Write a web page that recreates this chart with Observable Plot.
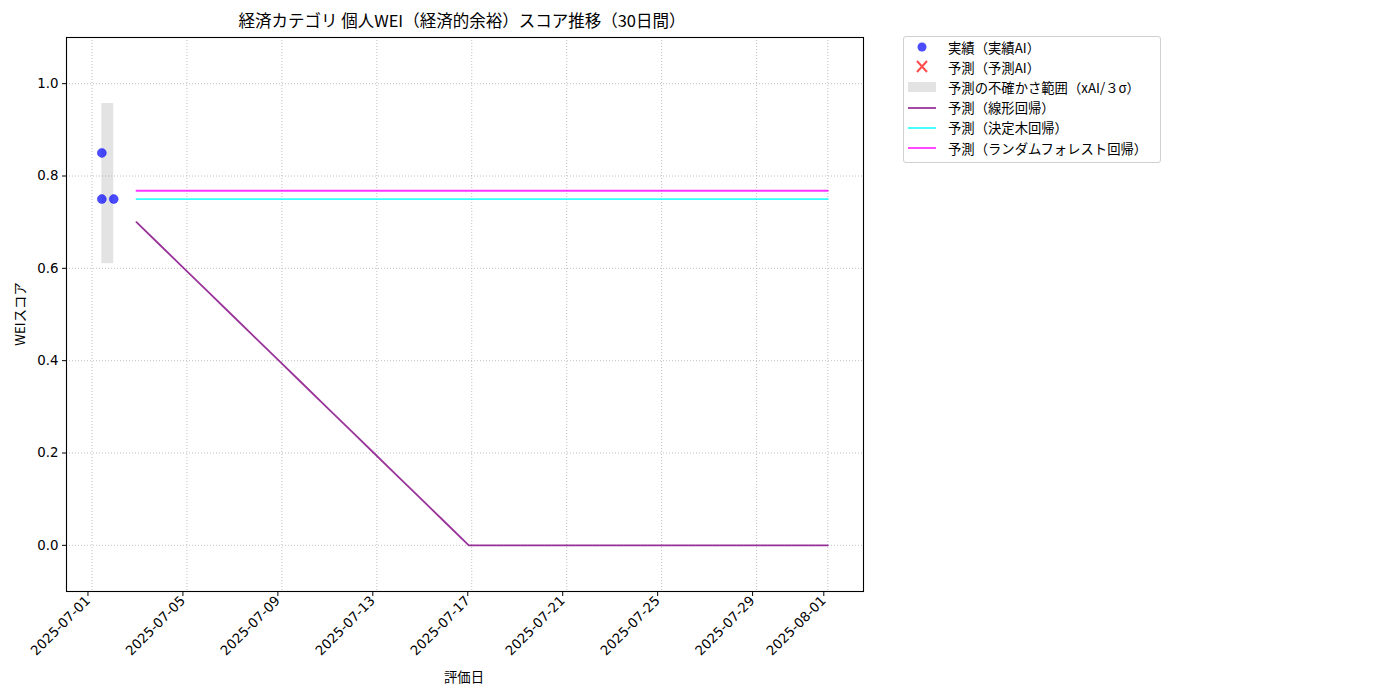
<!DOCTYPE html>
<html>
<head>
<meta charset="utf-8">
<script src="https://cdn.jsdelivr.net/npm/d3@7"></script>
<script src="https://cdn.jsdelivr.net/npm/@observablehq/plot@0.6"></script>
<style>
  body { margin: 0; background: #fff; }
  #wrap { position: relative; width: 1400px; height: 700px; font-family: "Noto Sans CJK JP", "Noto Sans", sans-serif; color: #000; }
  #chart { position: absolute; left: 0; top: 0; }
  #chart svg g[aria-label="x-axis tick label"] text,
  #chart svg g[aria-label="y-axis tick label"] text { font-family: "DejaVu Sans", sans-serif; }
  .lbl { position: absolute; white-space: nowrap; }
  #title { left: 462px; top: 20px; transform: translate(-50%, -50%); font-size: 16.5px; }
  #xlabel { left: 464px; top: 676px; transform: translate(-50%, -50%); font-size: 13.33px; }
  #ylabel { left: 19px; top: 314px; transform: translate(-50%, -50%) rotate(-90deg); font-size: 13.33px; }
  #legend { position: absolute; left: 903px; top: 36px; width: 258px; height: 127px; border: 1px solid #d0d0d0; border-radius: 3px; box-sizing: border-box; font-size: 13.33px; }
  .row { position: absolute; left: 0; height: 20px; display: flex; align-items: center; }
  .row svg { margin-left: 4px; margin-right: 10px; }
  .fw { font-variant-east-asian: full-width; }
</style>
</head>
<body>
<div id="wrap">
  <div id="chart"></div>
  <div id="title" class="lbl">経済カテゴリ 個人WEI（経済的余裕）スコア推移（30日間）</div>
  <div id="xlabel" class="lbl">評価日</div>
  <div id="ylabel" class="lbl">WEIスコア</div>
  <div id="legend"></div>
</div>
<script>
// ---- data ----
const actualDates = ["2025-07-01T10:00Z", "2025-07-01T10:00Z", "2025-07-01T22:00Z"];
const actualValues = [0.85, 0.75, 0.75];

const bandDates = ["2025-07-01T10:00Z", "2025-07-01T22:00Z"];
const bandLow = 0.610;
const bandHigh = 0.957;

const predDates = [
  "2025-07-02T21:00Z", "2025-07-03T21:00Z", "2025-07-04T21:00Z", "2025-07-05T21:00Z", "2025-07-06T21:00Z",
  "2025-07-07T21:00Z", "2025-07-08T21:00Z", "2025-07-09T21:00Z", "2025-07-10T21:00Z", "2025-07-11T21:00Z",
  "2025-07-12T21:00Z", "2025-07-13T21:00Z", "2025-07-14T21:00Z", "2025-07-15T21:00Z", "2025-07-16T21:00Z",
  "2025-07-17T21:00Z", "2025-07-18T21:00Z", "2025-07-19T21:00Z", "2025-07-20T21:00Z", "2025-07-21T21:00Z",
  "2025-07-22T21:00Z", "2025-07-23T21:00Z", "2025-07-24T21:00Z", "2025-07-25T21:00Z", "2025-07-26T21:00Z",
  "2025-07-27T21:00Z", "2025-07-28T21:00Z", "2025-07-29T21:00Z", "2025-07-30T21:00Z", "2025-08-01T00:00Z"
];
const linearValues = [
  0.70, 0.65, 0.60, 0.55, 0.50, 0.45, 0.40, 0.35, 0.30, 0.25,
  0.20, 0.15, 0.10, 0.05, 0.00, 0.00, 0.00, 0.00, 0.00, 0.00,
  0.00, 0.00, 0.00, 0.00, 0.00, 0.00, 0.00, 0.00, 0.00, 0.00
];
const treeValues = [
  0.75, 0.75, 0.75, 0.75, 0.75, 0.75, 0.75, 0.75, 0.75, 0.75,
  0.75, 0.75, 0.75, 0.75, 0.75, 0.75, 0.75, 0.75, 0.75, 0.75,
  0.75, 0.75, 0.75, 0.75, 0.75, 0.75, 0.75, 0.75, 0.75, 0.75
];
const forestValues = [
  0.768, 0.768, 0.768, 0.768, 0.768, 0.768, 0.768, 0.768, 0.768, 0.768,
  0.768, 0.768, 0.768, 0.768, 0.768, 0.768, 0.768, 0.768, 0.768, 0.768,
  0.768, 0.768, 0.768, 0.768, 0.768, 0.768, 0.768, 0.768, 0.768, 0.768
];

const xTicks = ["2025-07-01", "2025-07-05", "2025-07-09", "2025-07-13", "2025-07-17",
                "2025-07-21", "2025-07-25", "2025-07-29", "2025-08-01"];
const yTicks = [0.0, 0.2, 0.4, 0.6, 0.8, 1.0];
const xDomain = ["2025-06-29T22:15Z", "2025-08-02T12:05Z"];
const yDomain = [-0.1, 1.1];

const legendLabels = ["実績（実績AI）", "予測（予測AI）", "予測の不確かさ範囲（xAI/3σ）",
  "予測（線形回帰）", "予測（決定木回帰）", "予測（ランダムフォレスト回帰）"];

// ---- build ----
const P = s => new Date(s);
const actual = actualDates.map((d, i) => ({date: P(d), v: actualValues[i]}));
const band = [{x1: P(bandDates[0]), x2: P(bandDates[1]), y1: bandLow, y2: bandHigh}];
const lin = predDates.map((d, i) => ({date: P(d), v: linearValues[i]}));
const tree = predDates.map((d, i) => ({date: P(d), v: treeValues[i]}));
const forest = predDates.map((d, i) => ({date: P(d), v: forestValues[i]}));
const xt = xTicks.map(s => new Date(s + "T00:00Z"));

const font = '"Noto Sans CJK JP", "Noto Sans", sans-serif';
const chart = Plot.plot({
  width: 1400,
  height: 700,
  marginLeft: 66,
  marginRight: 537,
  marginTop: 37,
  marginBottom: 109,
  style: {fontFamily: font, fontSize: "13.33px", color: "#000", background: "white"},
  x: {type: "utc", domain: xDomain.map(P)},
  y: {domain: yDomain},
  marks: [
    Plot.gridX(xt, {stroke: "#b0b0b0", strokeOpacity: 1, strokeWidth: 0.8, strokeDasharray: "1,2"}),
    Plot.gridY(yTicks, {stroke: "#b0b0b0", strokeOpacity: 1, strokeWidth: 0.8, strokeDasharray: "1,2"}),
    Plot.rect(band, {x1: "x1", x2: "x2", y1: "y1", y2: "y2", fill: "gray", fillOpacity: 0.22}),
    Plot.dot(actual, {x: "date", y: "v", r: 4.5, fill: "blue", fillOpacity: 0.7, stroke: "blue", strokeOpacity: 0.7, strokeWidth: 0.5}),
    Plot.line(lin, {x: "date", y: "v", stroke: "purple", strokeOpacity: 0.8, strokeWidth: 1.8}),
    Plot.line(tree, {x: "date", y: "v", stroke: "cyan", strokeOpacity: 0.8, strokeWidth: 1.8}),
    Plot.line(forest, {x: "date", y: "v", stroke: "magenta", strokeOpacity: 0.8, strokeWidth: 1.8}),
    Plot.frame({stroke: "black", strokeWidth: 1.1}),
    Plot.axisY({ticks: yTicks, tickFormat: d3.format(".1f"), tickSize: 4, tickPadding: 4, label: null, fontSize: 13.33}),
    Plot.axisX({ticks: xt, tickFormat: d3.utcFormat("%Y-%m-%d"), tickSize: 4, tickPadding: 2, tickRotate: -45, label: null, fontSize: 13.33, dx: -4, dy: 1})
  ]
});
document.getElementById("chart").appendChild(chart);

// ---- legend ----
const legend = document.getElementById("legend");
const swatches = [
  `<circle cx="14" cy="10" r="4.5" fill="blue" fill-opacity="0.7"/>`,
  `<path d="M9 4 L19 15 M19 4 L9 15" stroke="red" stroke-opacity="0.7" stroke-width="2"/>`,
  `<rect x="0" y="5" width="28" height="10" fill="gray" fill-opacity="0.22"/>`,
  `<line x1="0" y1="10" x2="28" y2="10" stroke="purple" stroke-opacity="0.8" stroke-width="1.8"/>`,
  `<line x1="0" y1="10" x2="28" y2="10" stroke="cyan" stroke-opacity="0.8" stroke-width="1.8"/>`,
  `<line x1="0" y1="10" x2="28" y2="10" stroke="magenta" stroke-opacity="0.8" stroke-width="1.8"/>`
];
legendLabels.forEach((t, i) => {
  const row = document.createElement("div");
  row.className = "row";
  row.style.top = (0 + i * 20.2) + "px";
  const html = t.replace("3σ", '<span class="fw">3σ</span>');
  row.innerHTML = `<svg width="30" height="20">${swatches[i]}</svg><span>${html}</span>`;
  legend.appendChild(row);
});
</script>
</body>
</html>
